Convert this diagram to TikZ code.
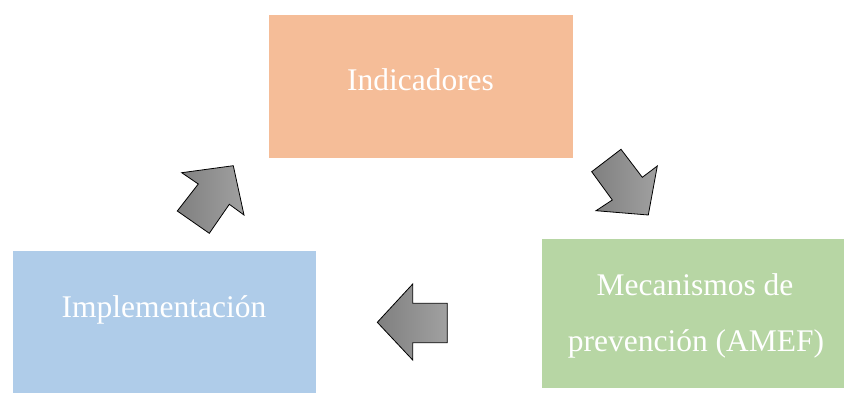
\documentclass[tikz,border=0pt]{standalone}
\usepackage{fontspec}
\setmainfont{Liberation Serif}
\definecolor{cInd}{RGB}{245,189,152}
\definecolor{cImp}{RGB}{175,204,233}
\definecolor{cMec}{RGB}{183,214,164}
\begin{document}
\begin{tikzpicture}[x=1pt,y=-1pt,
  boxstyle/.style={draw=white,line width=0.6pt},
  lbl/.style={text=white,font=\fontsize{31.5}{56}\selectfont,anchor=base,inner sep=0pt,align=center},
  arrowshape/.style={draw=black,line width=0.8pt,line join=miter,left color=black!50,right color=black!37}]
\useasboundingbox (0,0) rectangle (844,392);
% boxes
\path[boxstyle,fill=cInd] (268,14) rectangle (573,158);
\path[boxstyle,fill=cImp] (12,250) rectangle (316,396);
\path[boxstyle,fill=cMec] (541,238) rectangle (848,388);
% labels
\node[lbl] (ind) at (420.5,90) {Indicadores};
\node[lbl] (imp) at (164,317) {Implementación};
\node[lbl] (mec1) at (695,295) {Mecanismos de};
\node[lbl] (mec2) at (696,351) {prevención (AMEF)};
% arrows
\path[arrowshape] (233.3,165.7) -- (244,215) -- (229.3,204.3) -- (209.3,233.3) -- (177.3,211) -- (198.3,184) -- (181.7,172.7) -- cycle;
\path[arrowshape] (591.7,171.7) -- (621,149.3) -- (642.3,177.3) -- (657.3,166) -- (648.3,215) -- (596,210.7) -- (612.3,200) -- cycle;
\path[arrowshape] (377.3,322.3) -- (412.7,284) -- (412.7,303.3) -- (447.3,303.3) -- (447.3,342.7) -- (412.7,342.7) -- (412.7,360) -- cycle;
\end{tikzpicture}
\end{document}
